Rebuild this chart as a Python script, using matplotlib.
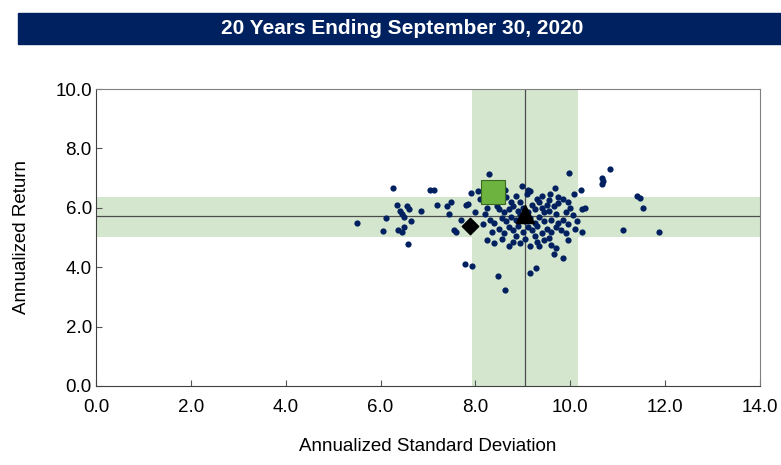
import matplotlib
matplotlib.use('Agg')
import matplotlib.pyplot as plt
from matplotlib.patches import Rectangle

# universe of peer funds (annualized std dev, annualized return)
std = [5.50, 6.05, 6.11, 6.27, 6.35, 6.40, 6.45, 6.50, 6.55, 6.60, 6.37, 6.45, 6.50, 6.58, 6.65,
       6.85, 7.05, 7.12, 7.20, 7.45, 7.55, 7.60, 7.40, 7.70, 7.48, 7.80, 7.85, 7.78, 7.92, 7.90,
       8.05, 8.29, 8.48, 8.62, 9.15, 9.28,
       9.97, 10.84, 10.67, 10.70, 10.66, 11.41, 11.47, 11.53, 11.11, 11.87, 10.22, 10.07, 10.25,
       10.30, 10.15, 10.10, 10.25,
       8.55, 8.98, 9.10, 8.85, 8.65, 9.08, 9.15, 9.40, 9.55, 9.58, 9.68, 9.85, 9.95, 9.30, 9.35,
       9.50, 9.65, 9.75, 10.00, 8.40, 8.45, 8.50, 8.60, 8.70, 8.80, 8.90, 9.00, 9.20, 9.25, 9.45,
       9.55, 9.70, 9.90, 10.05, 8.30, 8.40, 8.55, 8.65, 8.75, 8.85, 8.95, 9.05, 9.15, 9.25, 9.35,
       9.45, 9.60, 9.75, 9.85, 9.95, 8.35, 8.50, 8.60, 8.70, 8.80, 8.90, 9.00, 9.10, 9.20, 9.30,
       9.40, 9.50, 9.60, 9.70, 9.80, 9.90, 8.40, 8.55, 8.70, 8.80, 8.95, 9.05, 9.15, 9.30, 9.45,
       9.60, 9.70, 9.85, 9.95, 8.85, 9.25, 9.55, 8.20, 8.25, 9.10, 9.40, 8.00, 8.15, 8.10, 8.25,
       9.65, 9.35, 8.95, 8.75, 9.75, 8.62]
ret = [5.49, 5.22, 5.65, 6.65, 6.10, 5.90, 5.80, 5.70, 6.05, 5.95, 5.25, 5.20, 5.35, 4.78, 5.55,
       5.90, 6.60, 6.60, 6.10, 5.80, 5.25, 5.20, 6.05, 5.60, 6.20, 6.10, 6.12, 4.12, 4.05, 6.50,
       6.55, 7.14, 3.70, 3.23, 3.80, 3.97,
       7.17, 7.31, 7.00, 6.90, 6.80, 6.40, 6.33, 6.00, 5.25, 5.18, 6.60, 6.45, 5.95,
       6.00, 5.55, 5.30, 5.20,
       6.80, 6.75, 6.60, 6.40, 6.35, 6.45, 6.55, 6.40, 6.25, 6.45, 6.65, 6.30, 6.20, 6.30, 6.20,
       6.10, 6.05, 6.15, 6.00, 6.25, 6.05, 5.95, 5.85, 5.95, 6.05, 5.90, 6.00, 6.10, 5.95, 5.85,
       5.90, 5.80, 5.85, 5.75, 5.60, 5.50, 5.65, 5.55, 5.70, 5.60, 5.75, 5.55, 5.65, 5.50, 5.70,
       5.55, 5.60, 5.50, 5.60, 5.45, 5.20, 5.30, 5.15, 5.35, 5.25, 5.40, 5.20, 5.35, 5.25, 5.40,
       5.15, 5.30, 5.20, 5.35, 5.25, 5.15, 4.80, 4.95, 4.70, 4.85, 4.80, 4.95, 4.70, 4.85, 4.90,
       4.75, 4.65, 4.30, 4.90, 5.05, 5.05, 5.00, 5.80, 6.00, 5.85, 6.00, 5.85, 5.45, 6.30, 4.90,
       4.45, 4.70, 6.20, 6.20, 6.35, 6.60]

# highlighted portfolios
square_pt = (8.37, 6.53)
diamond_pt = (7.89, 5.39)
triangle_pt = (9.05, 5.78)

# universe median and interquartile ranges
med_std, med_ret = 9.05, 5.72
std_band = (7.93, 10.17)
ret_band = (5.02, 6.36)

x_ticks = [0, 2, 4, 6, 8, 10, 12, 14]
y_ticks = [0, 2, 4, 6, 8, 10]

plt.rcParams['font.family'] = ['Liberation Sans', 'DejaVu Sans']

fig = plt.figure(figsize=(7.81, 4.65), dpi=100)

# title banner
fig.patches.append(Rectangle((18 / 781, 1 - 44 / 465), 1 - 18 / 781, 31 / 465,
                             transform=fig.transFigure, color='#00215f', zorder=0))
fig.text(0.515, 1 - 29 / 465, '20 Years Ending September 30, 2020', color='white',
         fontsize=15, fontweight='bold', ha='center', va='center')

ax = fig.add_axes([96 / 781, 1 - 386 / 465, 664 / 781, 297 / 465])
green = '#d5e6cf'
ax.axvspan(std_band[0], std_band[1], color=green, lw=0, zorder=0)
ax.axhspan(ret_band[0], ret_band[1], color=green, lw=0, zorder=0)
ax.axvline(med_std, color='#4d4d4d', lw=0.9, zorder=1)
ax.axhline(med_ret, color='#4d4d4d', lw=0.9, zorder=1)

ax.scatter(std, ret, s=20, color='#002060', lw=0, zorder=2)
ax.scatter(*square_pt, marker='s', s=290, color='#6db33f', edgecolor='#3a6a20', lw=0.8, zorder=3)
ax.scatter(*diamond_pt, marker='D', s=70, color='black', zorder=3)
ax.scatter(*triangle_pt, marker='^', s=170, color='black', zorder=3)

ax.set_xlim(0, 14)
ax.set_ylim(0, 10)
ax.set_xticks(x_ticks)
ax.set_yticks(y_ticks)
ax.set_xticklabels([f'{v:.1f}' for v in x_ticks])
ax.set_yticklabels([f'{v:.1f}' for v in y_ticks])
ax.tick_params(direction='in', length=4, labelsize=13.5, color='#555555', pad=9)
ax.tick_params(axis='y', pad=3)
for side in ['top', 'right']:
    ax.spines[side].set_color('#808080')
for side in ['left', 'bottom']:
    ax.spines[side].set_color('#404040')

ax.set_xlabel('Annualized Standard Deviation', fontsize=13.5, labelpad=16)
ax.set_ylabel('Annualized Return', fontsize=13.5, labelpad=18)

fig.savefig('out.png', dpi=100)
